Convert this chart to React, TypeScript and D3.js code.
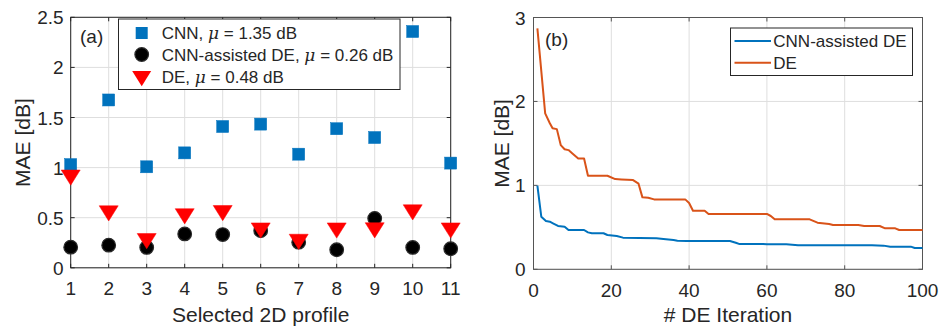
import React from "react";
import * as d3 from "d3";

// ---------- Panel (a) data ----------
const profiles = [1, 2, 3, 4, 5, 6, 7, 8, 9, 10, 11];
const cnnMae = [1.03, 1.675, 1.008, 1.147, 1.41, 1.434, 1.134, 1.388, 1.3, 2.358, 1.045];
const assistedMae = [0.206, 0.226, 0.203, 0.338, 0.332, 0.371, 0.256, 0.18, 0.493, 0.203, 0.19];
const deMae = [0.916, 0.559, 0.282, 0.53, 0.562, 0.388, 0.275, 0.388, 0.39, 0.569, 0.388];
const leftYTicks = [0, 0.5, 1, 1.5, 2, 2.5];
const leftYTickLabels = ["0", "0.5", "1", "1.5", "2", "2.5"];
const leftLegend = [
  { name: "CNN", mu: "1.35" },
  { name: "CNN-assisted DE", mu: "0.26" },
  { name: "DE", mu: "0.48" },
];

// ---------- Panel (b) data ----------
const iterDE = [1, 3, 4.2, 4.9, 6, 7, 8, 9, 10, 11.5, 13, 14, 19, 21, 22.6, 25.6, 27, 28, 29.5, 31, 39, 40, 41, 44, 45, 60, 61, 62, 71, 73, 76, 77, 83.5, 85, 89, 90.4, 93, 94, 100];
const maeDE = [2.87, 1.857, 1.74, 1.68, 1.67, 1.48, 1.43, 1.42, 1.38, 1.32, 1.32, 1.115, 1.115, 1.075, 1.07, 1.063, 1.02, 0.857, 0.853, 0.833, 0.833, 0.79, 0.698, 0.698, 0.66, 0.66, 0.635, 0.595, 0.595, 0.556, 0.54, 0.528, 0.528, 0.516, 0.516, 0.488, 0.488, 0.468, 0.468];
const iterAssisted = [1, 2, 3.2, 4.2, 5, 6.3, 8, 9, 13, 14, 15, 18, 19, 21.4, 23, 31.6, 33.4, 36, 37, 39.4, 50.5, 52, 53, 59, 60, 65, 68, 87, 90, 91.7, 97, 98, 100];
const maeAssisted = [0.996, 0.627, 0.575, 0.567, 0.548, 0.516, 0.508, 0.468, 0.468, 0.44, 0.429, 0.429, 0.409, 0.397, 0.377, 0.369, 0.361, 0.349, 0.341, 0.337, 0.337, 0.317, 0.3, 0.3, 0.298, 0.298, 0.286, 0.286, 0.282, 0.27, 0.27, 0.254, 0.254];
const rightXTicks = [0, 20, 40, 60, 80, 100];
const rightYTicks = [0, 1, 2, 3];
const rightLegend = ["CNN-assisted DE", "DE"];

const FONT = "'Liberation Sans', Arial, Helvetica, sans-serif";
const BLUE = "#0072BD";
const ORANGE = "#D95319";
const GRID = "#dedede";
const TXT = "#262626";

export default function App() {
  // Panel (a)
  const xa = d3.scaleLinear().domain([1, 11]).range([70.7, 450.7]);
  const ya = d3.scaleLinear().domain([0, 2.5]).range([267.8, 17.3]);
  const [ax0, ax1] = xa.range();
  const [ay0, ay1] = ya.range();

  // Panel (b)
  const xb = d3.scaleLinear().domain([0, 100]).range([533.5, 922.5]);
  const yb = d3.scaleLinear().domain([0, 3]).range([269.3, 17.5]);
  const [bx0, bx1] = xb.range();
  const [by0, by1] = yb.range();

  const lineGen = (xs: number[], ys: number[]) =>
    d3.line<number>().x((_, i) => xb(xs[i])).y((v) => yb(v))(ys) || "";

  const tri = (cx: number, cy: number) => {
    const w = 9.5, h = 8;
    return `M${cx - w},${cy - h * 0.75}L${cx + w},${cy - h * 0.75}L${cx},${cy + h * 1.15}Z`;
  };

  const tk = 4;

  return (
    <svg width={942} height={326} style={{ position: "absolute", left: 0, top: 0, background: "#fff" }} fontFamily={FONT}>
      {/* ---------- Panel (a) ---------- */}
      <g>
        {profiles.map((p) => (
          <line key={"gx" + p} x1={xa(p)} x2={xa(p)} y1={ay0} y2={ay1} stroke={GRID} strokeWidth={1} />
        ))}
        {leftYTicks.map((t) => (
          <line key={"gy" + t} x1={ax0} x2={ax1} y1={ya(t)} y2={ya(t)} stroke={GRID} strokeWidth={1} />
        ))}
        {/* ticks */}
        {profiles.map((p) => (
          <g key={"tx" + p}>
            <line x1={xa(p)} x2={xa(p)} y1={ay0} y2={ay0 - tk} stroke={TXT} />
            <line x1={xa(p)} x2={xa(p)} y1={ay1} y2={ay1 + tk} stroke={TXT} />
            <text x={xa(p)} y={295} textAnchor="middle" fontSize={19} fill={TXT}>{p}</text>
          </g>
        ))}
        {leftYTicks.map((t, i) => (
          <g key={"ty" + t}>
            <line x1={ax0} x2={ax0 + tk} y1={ya(t)} y2={ya(t)} stroke={TXT} />
            <line x1={ax1} x2={ax1 - tk} y1={ya(t)} y2={ya(t)} stroke={TXT} />
            <text x={ax0 - 7} y={ya(t) + 7} textAnchor="end" fontSize={19} fill={TXT}>{leftYTickLabels[i]}</text>
          </g>
        ))}
        <rect x={ax0} y={ay1} width={ax1 - ax0} height={ay0 - ay1} fill="none" stroke={TXT} strokeWidth={1} />

        {/* markers */}
        {profiles.map((p, i) => (
          <rect key={"sq" + p} x={xa(p) - 6} y={ya(cnnMae[i]) - 6} width={12} height={12} fill={BLUE} stroke={BLUE} strokeWidth={0.5} />
        ))}
        {profiles.map((p, i) => (
          <circle key={"ci" + p} cx={xa(p)} cy={ya(assistedMae[i])} r={6.8} fill="#000" stroke="#2a2a2a" strokeWidth={1.2} />
        ))}
        {profiles.map((p, i) => (
          <path key={"tr" + p} d={tri(xa(p), ya(deMae[i]))} fill="#FF0000" stroke="#FF0000" strokeWidth={0.5} />
        ))}

        <text x={80} y={43} fontSize={19} fill={TXT}>(a)</text>

        {/* legend */}
        <rect x={118.5} y={19} width={281.5} height={70.5} fill="#fff" stroke={TXT} strokeWidth={1} />
        {leftLegend.map((e, i) => {
          const cy = [33, 54.5, 77][i];
          const mx = 141.7;
          return (
            <g key={"lg" + i}>
              {i === 0 && <rect x={mx - 6} y={cy - 6} width={12} height={12} fill={BLUE} />}
              {i === 1 && <circle cx={mx} cy={cy} r={6.8} fill="#000" stroke="#2a2a2a" strokeWidth={1.2} />}
              {i === 2 && <path d={tri(mx, cy)} fill="#FF0000" />}
              <text x={161.7} y={cy + 6} fontSize={17} fill={TXT}>
                {e.name}, <tspan fontStyle="italic" fontFamily="'DejaVu Serif', serif">μ</tspan> = {e.mu} dB
              </text>
            </g>
          );
        })}

        <text x={260.7} y={322} textAnchor="middle" fontSize={21} fill={TXT}>Selected 2D profile</text>
        <text transform={`translate(30,${(ay0 + ay1) / 2}) rotate(-90)`} textAnchor="middle" fontSize={21} fill={TXT}>MAE [dB]</text>
      </g>

      {/* ---------- Panel (b) ---------- */}
      <g>
        {rightXTicks.map((t) => (
          <line key={"bgx" + t} x1={xb(t)} x2={xb(t)} y1={by0} y2={by1} stroke={GRID} strokeWidth={1} />
        ))}
        {rightYTicks.map((t) => (
          <line key={"bgy" + t} x1={bx0} x2={bx1} y1={yb(t)} y2={yb(t)} stroke={GRID} strokeWidth={1} />
        ))}
        {rightXTicks.map((t) => (
          <g key={"btx" + t}>
            <line x1={xb(t)} x2={xb(t)} y1={by0} y2={by0 - tk} stroke="#555" />
            <line x1={xb(t)} x2={xb(t)} y1={by1} y2={by1 + tk} stroke="#555" />
            <text x={xb(t)} y={296.5} textAnchor="middle" fontSize={19} fill={TXT}>{t}</text>
          </g>
        ))}
        {rightYTicks.map((t) => (
          <g key={"bty" + t}>
            <line x1={bx0} x2={bx0 + tk} y1={yb(t)} y2={yb(t)} stroke="#555" />
            <line x1={bx1} x2={bx1 - tk} y1={yb(t)} y2={yb(t)} stroke="#555" />
            <text x={bx0 - 8} y={yb(t) + 7} textAnchor="end" fontSize={19} fill={TXT}>{t}</text>
          </g>
        ))}
        <rect x={bx0} y={by1} width={bx1 - bx0} height={by0 - by1} fill="none" stroke="#555" strokeWidth={1} />

        <path d={lineGen(iterAssisted, maeAssisted)} fill="none" stroke={BLUE} strokeWidth={2} strokeLinejoin="round" />
        <path d={lineGen(iterDE, maeDE)} fill="none" stroke={ORANGE} strokeWidth={2} strokeLinejoin="round" />

        <text x={545} y={46} fontSize={19} fill={TXT}>(b)</text>

        <rect x={730.5} y={28} width={182} height={47.5} fill="#fff" stroke={TXT} strokeWidth={1} />
        {rightLegend.map((name, i) => {
          const cy = [41, 62.7][i];
          return (
            <g key={"rl" + i}>
              <line x1={734.5} x2={771} y1={cy} y2={cy} stroke={i === 0 ? BLUE : ORANGE} strokeWidth={2} />
              <text x={773.3} y={cy + 6} fontSize={17} fill={TXT}>{name}</text>
            </g>
          );
        })}

        <text x={(bx0 + bx1) / 2} y={322} textAnchor="middle" fontSize={21} fill={TXT}># DE Iteration</text>
        <text transform={`translate(509,${(by0 + by1) / 2}) rotate(-90)`} textAnchor="middle" fontSize={21} fill={TXT}>MAE [dB]</text>
      </g>
    </svg>
  );
}
